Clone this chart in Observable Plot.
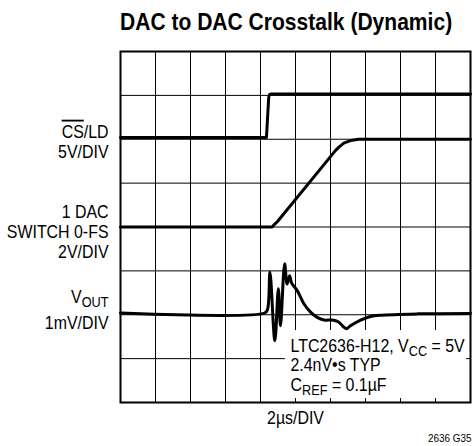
<!DOCTYPE html>
<html>
<head>
<meta charset="utf-8">
<script src="https://cdn.jsdelivr.net/npm/d3@7"></script>
<script src="https://cdn.jsdelivr.net/npm/@observablehq/plot@0.6"></script>
<style>
  html, body { margin: 0; padding: 0; background: #fff; }
  #wrap { width: 473px; height: 446px; position: relative; overflow: hidden; }
  #title { height: 40px; box-sizing: border-box; padding-left: 120px; padding-top: 8px; white-space: nowrap; }
  #title span { display: inline-block; transform: scaleX(0.877); transform-origin: 0 50%;
           font-family: "Liberation Sans", Arial, sans-serif;
           font-weight: bold; font-size: 24px; line-height: 28px; color: #000; }
</style>
</head>
<body>
<div id="wrap">
  <div id="title"><span>DAC to DAC Crosstalk (Dynamic)</span></div>
  <div id="chart"></div>
</div>
<script>
// ---- data (time in divisions of 2µs, level in vertical divisions) ----
const gridX = [0, 1, 2, 3, 4, 5, 6, 7, 8, 9, 10];
const gridY = [0, 1, 2, 3, 4, 5, 6, 7, 8];

// CS/LD trace (5V/DIV)
const csT = [0, 4.17, 4.235, 4.26, 4.31, 10];
const csV = [6.04, 6.04, 6.96, 7.02, 7.03, 7.03];

// 1 DAC switch 0-FS trace (2V/DIV)
const dacT = [0, 4.33, 4.40, 4.48, 6.14, 6.24, 6.38, 6.57, 6.81, 10];
const dacV = [4.0, 4.0, 4.06, 4.12, 5.74, 5.82, 5.91, 5.97, 6.0, 6.0];

// VOUT crosstalk trace (1mV/DIV)
const voutT = [0, 4.12, 4.2, 4.27, 4.41, 4.51, 4.57, 4.69, 4.76, 4.83, 4.89, 5.05, 5.24, 5.43, 5.62, 5.81, 6.05, 6.22, 6.38, 6.46, 6.57, 6.86, 7.14, 7.43, 8.5, 10];
const voutV = [2.04, 2.04, 2.12, 2.97, 1.41, 2.59, 1.75, 3.16, 2.70, 2.89, 2.72, 2.55, 2.25, 2.06, 1.94, 1.88, 1.88, 1.84, 1.72, 1.68, 1.75, 1.88, 1.96, 1.99, 2.02, 2.03];

// channel labels and their trace levels
const labelTexts = ["~{CS}/LD\n5V/DIV", "1 DAC\nSWITCH 0-FS\n2V/DIV", "V_{OUT}\n1mV/DIV"];
const labelLevels = [6.04, 4.0, 2.04];
const noteText = "LTC2636-H12, V_{CC} = 5V\n2.4nV•s TYP\nC_{REF} = 0.1µF";
const noteBox = {x1: 4.71, x2: 9.89, y1: 0.09, y2: 1.64};
const xLabel = "2µs/DIV";
const figId = "2636 G35";

// ---- build ----
const toRows = (T, V) => T.map((t, i) => ({t, v: V[i]}));
const cs = toRows(csT, csV);
const dac = toRows(dacT, dacV);
const vout = toRows(voutT, voutV);
const labels = labelTexts.map((text, i) => ({text, level: labelLevels[i]}));

const font = `"Liberation Sans", Arial, sans-serif`;

const chart = Plot.plot({
  width: 473,
  height: 406,
  marginLeft: 120,
  marginRight: 3,
  marginTop: 11,
  marginBottom: 44,
  style: {fontFamily: font, background: "#fff", color: "#000", overflow: "visible"},
  x: {domain: [0, 10], axis: null},
  y: {domain: [0, 8], axis: null},
  marks: [
    Plot.ruleX(gridX.slice(1, -1), {stroke: "#000", strokeWidth: 1}),
    Plot.ruleY(gridY.slice(1, -1), {stroke: "#000", strokeWidth: 1}),
    Plot.rect([noteBox], {x1: "x1", x2: "x2", y1: "y1", y2: "y2", fill: "#fff"}),
    Plot.line(cs, {x: "t", y: "v", stroke: "#000", strokeWidth: 3, strokeLinejoin: "round"}),
    Plot.line(dac, {x: "t", y: "v", stroke: "#000", strokeWidth: 3, strokeLinejoin: "round"}),
    Plot.line(vout, {x: "t", y: "v", stroke: "#000", strokeWidth: 3, curve: "catmull-rom", strokeLinejoin: "round"}),
    Plot.frame({stroke: "#000", strokeWidth: 2}),
    Plot.text([labels[0]], {x: () => 0, y: "level", text: "text", textAnchor: "end", lineAnchor: "middle", dx: -12, dy: 4, fontSize: 18.5, lineHeight: 1.08, fill: "#000"}),
    Plot.text([labels[1]], {x: () => 0, y: "level", text: "text", textAnchor: "end", lineAnchor: "middle", dx: -12, dy: 4.5, fontSize: 18.5, lineHeight: 1.1, fill: "#000"}),
    Plot.text([labels[2]], {x: () => 0, y: "level", text: "text", textAnchor: "end", lineAnchor: "middle", dx: -12, dy: -6, fontSize: 18.5, lineHeight: 1.2, fill: "#000"}),
    Plot.text([noteText], {frameAnchor: "bottom-right", text: d => d, textAnchor: "start", lineAnchor: "bottom", dx: -180, dy: -12, fontSize: 18.5, lineHeight: 1.05, fill: "#000"}),
    Plot.text([xLabel], {frameAnchor: "bottom", text: d => d, lineAnchor: "middle", dy: 16, fontSize: 18.5, fill: "#000"}),
    Plot.text([figId], {frameAnchor: "bottom-right", text: d => d, textAnchor: "end", lineAnchor: "middle", dx: 1, dy: 36, fontSize: 11.5, fill: "#000"})
  ]
});

// rich text: _{...} subscript, ~{...} overline
function rich(svg) {
  const NS = "http://www.w3.org/2000/svg";
  svg.querySelectorAll("text").forEach(t => {
    const tsp = Array.from(t.querySelectorAll("tspan"));
    const targets = tsp.length ? tsp : [t];
    targets.forEach(el => {
      const s = el.textContent;
      if (!/[_~]\{/.test(s)) return;
      el.textContent = "";
      const re = /([_~])\{([^}]*)\}|([^_~]+)/g;
      let m, pending = 0;
      while ((m = re.exec(s))) {
        const ts = document.createElementNS(NS, "tspan");
        if (m[3] !== undefined) {
          ts.textContent = m[3];
          if (pending) { ts.setAttribute("dy", -pending); pending = 0; }
        } else if (m[1] === "_") {
          ts.textContent = m[2];
          ts.setAttribute("font-size", "0.8em");
          ts.setAttribute("dy", 4);
          pending = 4;
        } else {
          ts.textContent = m[2];
          ts.setAttribute("text-decoration", "overline");
        }
        el.appendChild(ts);
      }
    });
    // condensed face: compress horizontally about the anchor
    const tr = t.getAttribute("transform") || "";
    t.setAttribute("transform", tr + " scale(0.86,1)");
  });
}
rich(chart);
document.getElementById("chart").appendChild(chart);
</script>
</body>
</html>
